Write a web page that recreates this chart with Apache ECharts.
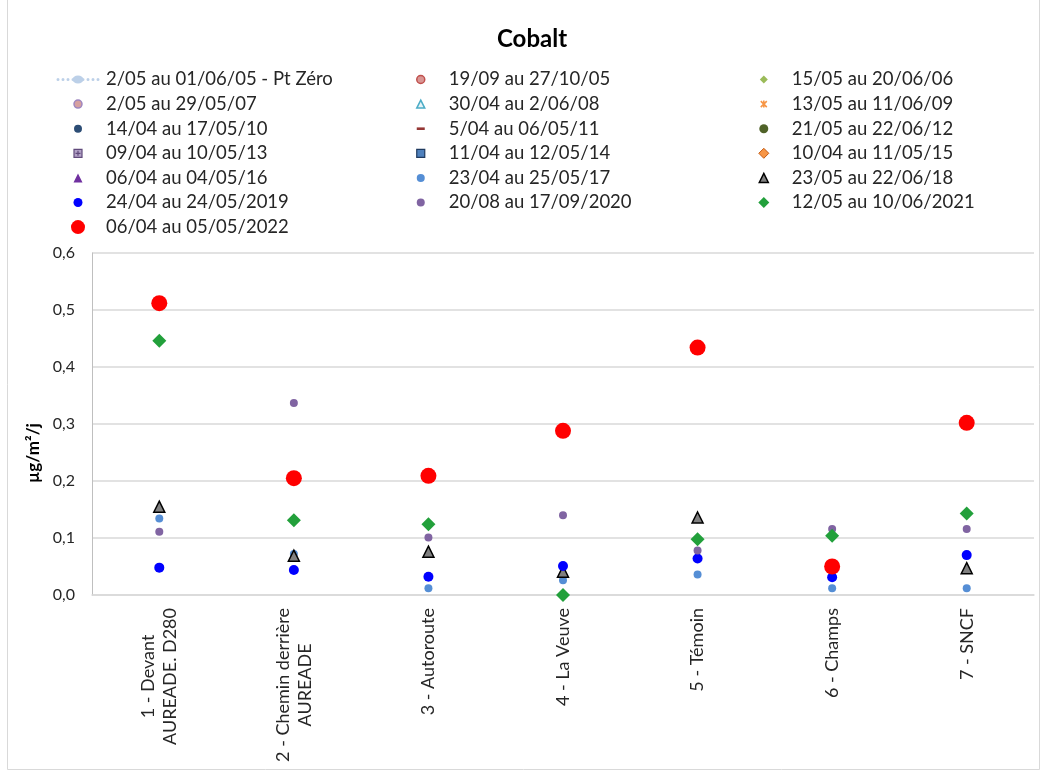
<!DOCTYPE html>
<html>
<head>
<meta charset="utf-8">
<script src="https://cdn.jsdelivr.net/npm/echarts@6/dist/echarts.min.js"></script>
<style>
html,body{margin:0;padding:0;background:#fff;}
#chart{width:1045px;height:774px;}
</style>
</head>
<body>
<div id="chart"></div>
<script>
// ---- Data ----
const categories = ['1 - Devant\nAUREADE. D280', '2 - Chemin derrière\nAUREADE', '3 - Autoroute', '4 - La Veuve', '5 - Témoin', '6 - Champs', '7 - SNCF'];
const seriesNames = [
  '2/05 au 01/06/05 - Pt Zéro', '19/09 au 27/10/05', '15/05 au 20/06/06',
  '2/05 au 29/05/07', '30/04 au 2/06/08', '13/05 au 11/06/09',
  '14/04 au 17/05/10', '5/04 au 06/05/11', '21/05 au 22/06/12',
  '09/04 au 10/05/13', '11/04 au 12/05/14', '10/04 au 11/05/15',
  '06/04 au 04/05/16', '23/04 au 25/05/17', '23/05 au 22/06/18',
  '24/04 au 24/05/2019', '20/08 au 17/09/2020', '12/05 au 10/06/2021',
  '06/04 au 05/05/2022'
];
const noData = [null, null, null, null, null, null, null];
const s2017 = [0.134, 0.072, 0.012, 0.026, 0.036, 0.012, 0.012];
const s2018 = [0.155, 0.069, 0.076, 0.041, 0.136, null, 0.047];
const s2019 = [0.048, 0.044, 0.032, 0.051, 0.064, 0.031, 0.070];
const s2020 = [0.111, 0.337, 0.101, 0.140, 0.078, 0.116, 0.116];
const s2021 = [0.446, 0.131, 0.124, 0.000, 0.098, 0.104, 0.143];
const s2022 = [0.512, 0.205, 0.209, 0.288, 0.434, 0.050, 0.302];
const yTicks = [0, 0.6, 0.1]; // min, max, interval

// ---- Styles ----
const FONT = 'Lato';
const TXT = '#262626';
const PAD = 'M0 0 M16 16 ';
function circ(r){return PAD+`M${8-r} 8 A${r} ${r} 0 1 0 ${8+r} 8 A${r} ${r} 0 1 0 ${8-r} 8 Z`;}
function tri(w,h){return PAD+`M8 ${8-h/2} L${8+w/2} ${8+h/2} L${8-w/2} ${8+h/2} Z`;}
function dia(s){return PAD+`M8 ${8-s/2} L${8+s/2} 8 L8 ${8+s/2} L${8-s/2} 8 Z`;}
function sq(s){return PAD+`M${8-s/2} ${8-s/2} L${8+s/2} ${8-s/2} L${8+s/2} ${8+s/2} L${8-s/2} ${8+s/2} Z`;}
function ptZeroIcon(){
  let p='M0 0 M46 16 ';
  [3,8,13,18,28,33,38,43].forEach(x=>{p+=`M${x-1.5} 8 A1.5 1.5 0 1 0 ${x+1.5} 8 A1.5 1.5 0 1 0 ${x-1.5} 8 Z `;});
  p+='M17.5 8 A5.5 4 0 1 0 28.5 8 A5.5 4 0 1 0 17.5 8 Z';
  return p;
}
const styles = [
  {icon:ptZeroIcon(), color:'#BCD0E8', symbol:'circle', size:8},
  {icon:circ(4), color:'#D99694', border:'#C0504D', bw:1.5, symbol:'circle', size:8},
  {icon:dia(8), color:'#9BBB59', symbol:'diamond', size:8},
  {icon:circ(4), color:'#D6A0A0', border:'#9E86C0', bw:1.5, symbol:'circle', size:8},
  {icon:tri(8,8), color:'#E6F3F7', border:'#4BACC6', bw:1.5, symbol:'triangle', size:8},
  {icon:PAD+'M5 5 L11 11 M11 5 L5 11 M8 4.5 L8 11.5', color:'#F79646', border:'#F79646', bw:1.6, symbol:'circle', size:8},
  {icon:circ(4), color:'#2C4D75', symbol:'circle', size:8},
  {icon:PAD+'M4 6.7 L12 6.7 L12 9.3 L4 9.3 Z', color:'#953735', symbol:'rect', size:[8,3]},
  {icon:circ(4.5), color:'#4F6228', symbol:'circle', size:9},
  {icon:PAD+'M4 4 L12 4 L12 12 L4 12 Z M8 5.5 L8 10.5 M5.5 8 L10.5 8', color:'#B3A2C7', border:'#604A7B', bw:1.2, symbol:'rect', size:8},
  {icon:sq(8), color:'#4F81BD', border:'#1F3A5F', bw:1.2, symbol:'rect', size:8},
  {icon:dia(10), color:'#F79646', border:'#C55A11', bw:1, symbol:'diamond', size:10},
  {icon:tri(9,9), color:'#7030A0', symbol:'triangle', size:9},
  {icon:circ(4), color:'#558ED5', symbol:'circle', size:8},
  {icon:tri(9,9), color:'#808080', border:'#000000', bw:1.5, symbol:'triangle', size:11},
  {icon:circ(4.5), color:'#0000FF', symbol:'circle', size:10},
  {icon:circ(4), color:'#8064A2', symbol:'circle', size:8},
  {icon:dia(11), color:'#22A03B', symbol:'diamond', size:14},
  {icon:circ(7), color:'#FF0000', symbol:'circle', size:16}
];
const seriesData = [noData, noData, noData, noData, noData, noData, noData, noData, noData, noData, noData, noData, noData, s2017, s2018, s2019, s2020, s2021, s2022];

const series = seriesNames.map((name, i) => {
  const st = styles[i];
  const base = {
    name: name,
    data: seriesData[i],
    symbol: st.symbol,
    symbolSize: st.size,
    itemStyle: {color: st.color, borderColor: st.border || st.color, borderWidth: st.bw || 0, opacity: 1},
    emphasis: {disabled: true},
    z: 2 + i
  };
  if (i === 0) {
    base.type = 'line';
    base.lineStyle = {type: 'dotted', width: 3, color: st.color};
  } else {
    base.type = 'scatter';
  }
  return base;
});

function legendCol(indices, left){
  return {
    orient: 'vertical', left: left, top: 70, padding: 0,
    itemWidth: 46, itemHeight: 16, itemGap: 5.6,
    textStyle: {fontFamily: FONT, fontSize: 18.5, color: TXT, padding: [0,0,0,0]},
    data: indices.map(i => ({name: seriesNames[i], icon: 'path://' + styles[i].icon,
      itemStyle: {color: styles[i].color, borderColor: styles[i].border || styles[i].color, borderWidth: styles[i].bw || 0}}))
  };
}

const chart = echarts.init(document.getElementById('chart'), null, {renderer: 'canvas'});
chart.setOption({
  backgroundColor: '#fff',
  animation: false,
  title: {text: 'Cobalt', left: 497, top: 27, padding: 0,
    textStyle: {fontFamily: FONT, fontSize: 24, fontWeight: 'bold', color: '#000'}},
  legend: [legendCol([0,3,6,9,12,15,18], 55), legendCol([1,4,7,10,13,16], 412), legendCol([2,5,8,11,14,17], 755)],
  graphic: [{type: 'rect', shape: {x: 7.5, y: -5, width: 1032, height: 774.5}, style: {fill: 'none', stroke: '#d9d9d9', lineWidth: 1}, silent: true}],
  grid: {left: 92, right: 11, top: 253, bottom: 179},
  xAxis: {
    type: 'category', data: categories, boundaryGap: true,
    axisLine: {show: true, lineStyle: {color: '#d9d9d9', width: 1.5}},
    axisTick: {show: false},
    axisLabel: {
      interval: 0, rotate: 90, margin: 13,
      formatter: v => v.split('\n').map(s => '{c|' + s + '}').join('\n'),
      rich: {c: {align: 'center', fontFamily: FONT, fontSize: 18, lineHeight: 22, color: TXT}}
    }
  },
  yAxis: {
    type: 'value', min: yTicks[0], max: yTicks[1], interval: yTicks[2],
    name: 'µg/m²/j', nameLocation: 'middle', nameGap: 41, nameRotate: 90,
    nameTextStyle: {fontFamily: FONT, fontSize: 17, fontWeight: 'bold', color: '#000', padding: [0, 58, 0, 0]},
    axisLine: {show: true, lineStyle: {color: '#bfbfbf'}},
    axisTick: {show: false},
    axisLabel: {margin: 17, fontFamily: FONT, fontSize: 16, color: TXT, formatter: v => v.toFixed(1).replace('.', ',')},
    splitLine: {show: true, lineStyle: {color: '#d9d9d9', width: 1.5}}
  },
  series: series
});
</script>
</body>
</html>
